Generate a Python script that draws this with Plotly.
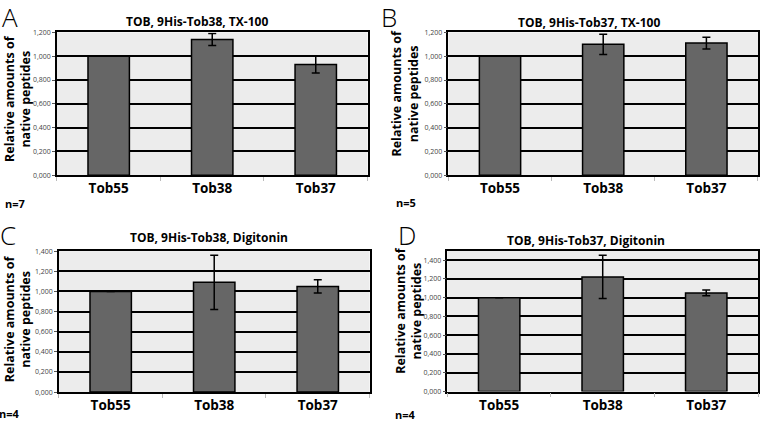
import plotly.graph_objects as go

W, H = 760, 423

categories = ["Tob55", "Tob38", "Tob37"]

titles = ["TOB, 9His-Tob38, TX-100", "TOB, 9His-Tob37, TX-100",
          "TOB, 9His-Tob38, Digitonin", "TOB, 9His-Tob37, Digitonin"]
panel_letters = ["A", "B", "C", "D"]
n_labels = ["n=7", "n=5", "n=4", "n=4"]

values_A = [1.00, 1.14, 0.93]
errors_A = [0.0, 0.05, 0.07]
values_B = [1.00, 1.10, 1.11]
errors_B = [0.0, 0.085, 0.05]
values_C = [1.00, 1.09, 1.05]
errors_C = [0.0, 0.27, 0.065]
values_D = [1.00, 1.22, 1.05]
errors_D = [0.0, 0.23, 0.03]

y_max = [1.2, 1.2, 1.4, 1.5]
tick_vals_12 = [0.0, 0.2, 0.4, 0.6, 0.8, 1.0, 1.2]
tick_text_12 = ["0,000", "0,200", "0,400", "0,600", "0,800", "1,000", "1,200"]
tick_vals_14 = [0.0, 0.2, 0.4, 0.6, 0.8, 1.0, 1.2, 1.4]
tick_text_14 = ["0,000", "0,200", "0,400", "0,600", "0,800", "1,000", "1,200", "1,400"]

y_title = "Relative amounts of<br>native peptides"

values = [values_A, values_B, values_C, values_D]
errors = [errors_A, errors_B, errors_C, errors_D]
ticks = [(tick_vals_12, tick_text_12), (tick_vals_12, tick_text_12),
         (tick_vals_14, tick_text_14), (tick_vals_14, tick_text_14)]

# pixel layout of plot areas: (left, right, top, bottom)
boxes = [(57, 368, 28, 174), (449, 759, 28, 174),
         (59, 370, 251.5, 395.5), (448, 759, 251, 395)]

FONT = "Open Sans"
BAR_COLOR = "#666666"
PLOT_BG = "#ececec"

fig = go.Figure()
layout = dict(width=W, height=H, margin=dict(l=0, r=0, t=0, b=0),
              paper_bgcolor="white", plot_bgcolor=PLOT_BG, showlegend=False,
              bargap=0.6, font=dict(family=FONT, color="black"))

annotations = []
for i in range(4):
    sx = "" if i == 0 else str(i + 1)
    l, r, t, b = boxes[i]
    fig.add_trace(go.Bar(
        x=categories, y=values[i], xaxis="x" + sx, yaxis="y" + sx,
        marker=dict(color=BAR_COLOR, line=dict(color="black", width=1.5)),
        error_y=dict(type="data", array=errors[i], visible=True,
                     color="black", thickness=1.5, width=4),
        hoverinfo="skip"))
    layout["xaxis" + sx] = dict(
        domain=[l / W, r / W], anchor="y" + sx, range=[-0.5, 2.5],
        showline=True, mirror=True, linecolor="black", linewidth=1.5,
        showgrid=False, ticks="outside", tickson="boundaries", ticklen=4,
        tickcolor="#bbbbbb", tickwidth=1,
        tickfont=dict(family=FONT, size=13.5, color="black", weight="bold"))
    tv, tt = ticks[i]
    layout["yaxis" + sx] = dict(
        domain=[1 - b / H, 1 - t / H], anchor="x" + sx, range=[0, y_max[i]],
        showline=True, mirror=True, linecolor="black", linewidth=1.5,
        showgrid=True, gridcolor="black", gridwidth=1.5, zeroline=False,
        tickvals=tv, ticktext=tt, ticks="outside", ticklen=3,
        tickcolor="#555555", tickwidth=1,
        tickfont=dict(family=FONT, size=7, color="#444444"))

title_pos = [(197, 17), (590, 18), (209, 238), (587, 241)]
n_pos = [(15, 203), (407, 202), (10, 417), (406, 418)]
letter_pos = [(10, 12), (390, 12), (8, 235), (408, 235)]
ytitle_pos = [(18, 95), (405, 90), (17, 320), (409, 312)]

for i in range(4):
    x, y = title_pos[i]
    annotations.append(dict(text=titles[i], x=x / W, y=1 - y / H, xref="paper", yref="paper",
                            xanchor="center", yanchor="middle", showarrow=False,
                            font=dict(family=FONT, size=12, color="black", weight="bold")))
    x, y = n_pos[i]
    annotations.append(dict(text=n_labels[i], x=x / W, y=1 - y / H, xref="paper", yref="paper",
                            xanchor="center", yanchor="middle", showarrow=False,
                            font=dict(family=FONT, size=11, color="black", weight="bold")))
    x, y = letter_pos[i]
    annotations.append(dict(text=panel_letters[i], x=x / W, y=1 - y / H, xref="paper", yref="paper",
                            xanchor="center", yanchor="middle", showarrow=False,
                            font=dict(family=FONT, size=26, color="black", weight=300)))
    x, y = ytitle_pos[i]
    annotations.append(dict(text=y_title, x=x / W, y=1 - y / H, xref="paper", yref="paper",
                            xanchor="center", yanchor="middle", showarrow=False, textangle=-90,
                            font=dict(family=FONT, size=12.5, color="black", weight="bold")))

layout["annotations"] = annotations
fig.update_layout(**layout)
fig.write_html("out.html", config={"displayModeBar": False},
               post_script="document.body.style.margin='0';document.body.style.overflow='hidden';")
